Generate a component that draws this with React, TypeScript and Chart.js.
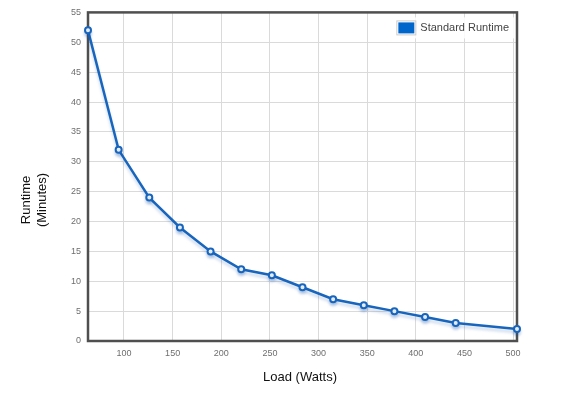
import React, { useEffect, useRef } from "react";
import { Chart, registerables } from "chart.js";

Chart.register(...registerables);

const loadWatts = [63, 94.5, 126, 157.5, 189, 220.5, 252, 283.5, 315, 346.5, 378, 409.5, 441, 504];
const runtimeMinutes = [52, 32, 24, 19, 15, 12, 11, 9, 7, 6, 5, 4, 3, 2];
const seriesLabel = "Standard Runtime";
const xTitle = "Load (Watts)";
const yTitleLines = ["Runtime", "(Minutes)"];
const xMin = 63;
const xMax = 504;
const xStep = 50;
const yMin = 0;
const yMax = 55;
const yStep = 5;

const FONT = "'Liberation Sans', Arial, sans-serif";
const LINE_COLOR = "#1865bd";
const LEGEND_COLOR = "#0066cc";

const framePlugin = {
  id: "frame",
  beforeDatasetsDraw(chart: any) {
    const { ctx, chartArea: a } = chart;
    ctx.save();
    ctx.strokeStyle = "#4f4f4f";
    ctx.lineWidth = 2.5;
    ctx.strokeRect(a.left, a.top, a.right - a.left, a.bottom - a.top);
    ctx.restore();
  },
};

const shadowPlugin = {
  id: "lineShadow",
  beforeDatasetDraw(chart: any) {
    const ctx = chart.ctx;
    ctx.save();
    ctx.shadowColor = "rgba(20, 80, 170, 0.22)";
    ctx.shadowOffsetX = 0;
    ctx.shadowOffsetY = 3;
    ctx.shadowBlur = 3;
  },
  afterDatasetDraw(chart: any) {
    chart.ctx.restore();
  },
};

const textPlugin = {
  id: "titlesAndLegend",
  afterDraw(chart: any) {
    const { ctx, chartArea: a } = chart;
    ctx.save();
    // axis titles
    ctx.fillStyle = "#111";
    ctx.font = `13px ${FONT}`;
    ctx.textAlign = "center";
    ctx.textBaseline = "middle";
    ctx.fillText(xTitle, 300, 377);
    ctx.save();
    ctx.translate(26, 200);
    ctx.rotate(-Math.PI / 2);
    yTitleLines.forEach((line, i) => {
      ctx.fillText(line, 0, i * 16);
    });
    ctx.restore();

    // legend
    const label = chart.data.datasets[0].label;
    const right = a.right - 2;
    ctx.font = `11px ${FONT}`;
    const tw = ctx.measureText(label).width;
    const boxW = 16;
    const boxH = 11;
    const legW = 6 + boxW + 6 + tw + 6;
    const legX = right - legW;
    const legY = a.top + 5;
    const legH = 21;
    ctx.fillStyle = "rgba(255,255,255,0.85)";
    ctx.fillRect(legX, legY, legW, legH);
    const bx = legX + 6;
    const by = legY + (legH - boxH) / 2;
    ctx.fillStyle = "#ffffff";
    ctx.fillRect(bx - 1, by - 1, boxW + 2, boxH + 2);
    ctx.strokeStyle = "#cccccc";
    ctx.lineWidth = 1;
    ctx.strokeRect(bx - 1.5, by - 1.5, boxW + 3, boxH + 3);
    ctx.fillStyle = LEGEND_COLOR;
    ctx.fillRect(bx, by, boxW, boxH);
    ctx.fillStyle = "#444";
    ctx.textAlign = "left";
    ctx.textBaseline = "middle";
    ctx.fillText(label, bx + boxW + 6, legY + legH / 2);
    ctx.restore();
  },
};

export default function App() {
  const canvasRef = useRef<HTMLCanvasElement | null>(null);

  useEffect(() => {
    if (!canvasRef.current) return;
    Chart.defaults.font.family = FONT;
    const chart = new Chart(canvasRef.current, {
      type: "line",
      data: {
        datasets: [
          {
            label: seriesLabel,
            data: loadWatts.map((x, i) => ({ x, y: runtimeMinutes[i] })),
            borderColor: LINE_COLOR,
            borderWidth: 2.5,
            backgroundColor: "#ffffff",
            pointBackgroundColor: "#ffffff",
            pointBorderColor: LINE_COLOR,
            pointBorderWidth: 2,
            pointRadius: 3,
            tension: 0,
            fill: false,
            clip: false as any,
          },
        ],
      },
      options: {
        responsive: false,
        animation: false,
        devicePixelRatio: 1,
        layout: { padding: { left: 0, top: 12, right: 54, bottom: 0 } },
        plugins: {
          legend: { display: false },
          tooltip: { enabled: false },
        },
        scales: {
          x: {
            type: "linear",
            min: xMin,
            max: xMax,
            ticks: {
              stepSize: xStep,
              includeBounds: false,
              padding: 7,
              color: "#6e6e6e",
              font: { size: 9, family: FONT },
              maxRotation: 0,
              autoSkip: false,
            },
            grid: { color: "#dadada", lineWidth: 1, drawTicks: false },
            border: { display: false },
            afterFit: (s: any) => {
              s.height = 58;
            },
          },
          y: {
            type: "linear",
            min: yMin,
            max: yMax,
            ticks: {
              stepSize: yStep,
              padding: 7,
              color: "#6e6e6e",
              font: { size: 9, family: FONT },
            },
            grid: { color: "#dadada", lineWidth: 1, drawTicks: false },
            border: { display: false },
            afterFit: (s: any) => {
              s.width = 88;
            },
          },
        },
      },
      plugins: [framePlugin, shadowPlugin, textPlugin],
    });
    return () => chart.destroy();
  }, []);

  return (
    <div style={{ position: "absolute", left: 0, top: 0, width: 571, height: 399, background: "#fff" }}>
      <canvas ref={canvasRef} width={571} height={399} />
    </div>
  );
}
